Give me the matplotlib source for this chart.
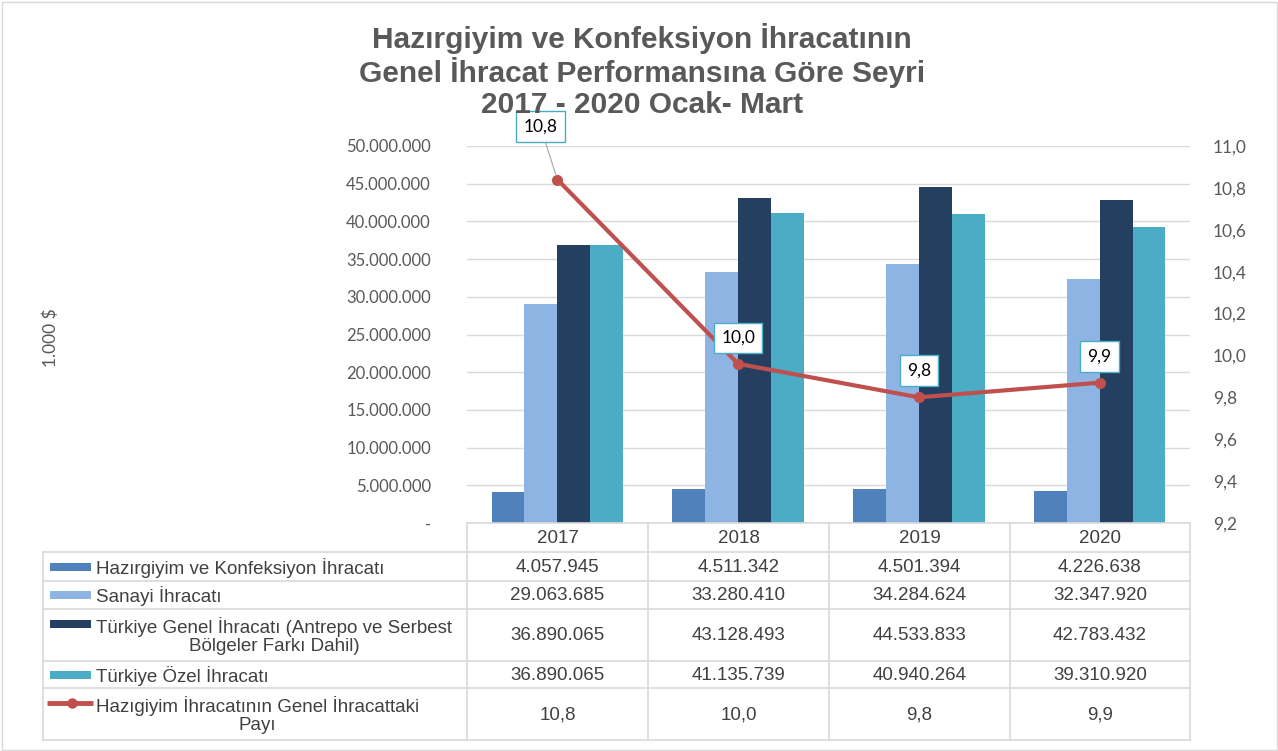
import matplotlib
matplotlib.use("Agg")
import matplotlib.pyplot as plt
from matplotlib.patches import Rectangle
import numpy as np

years = ["2017", "2018", "2019", "2020"]
hazirgiyim = [4057945, 4511342, 4501394, 4226638]
sanayi = [29063685, 33280410, 34284624, 32347920]
genel = [36890065, 43128493, 44533833, 42783432]
ozel = [36890065, 41135739, 40940264, 39310920]
pay = [10.84, 9.96, 9.80, 9.87]

series_names = [
    "Hazırgiyim ve Konfeksiyon İhracatı",
    "Sanayi İhracatı",
    "Türkiye Genel İhracatı (Antrepo ve Serbest\nBölgeler Farkı Dahil)",
    "Türkiye Özel İhracatı",
    "Hazıgiyim İhracatının Genel İhracattaki\nPayı",
]
colors = ["#4F81BD", "#8EB4E3", "#243F60", "#4BACC6"]
line_color = "#C0504D"
left_ticks = [0, 5e6, 10e6, 15e6, 20e6, 25e6, 30e6, 35e6, 40e6, 45e6, 50e6]
right_ticks = [9.2, 9.4, 9.6, 9.8, 10.0, 10.2, 10.4, 10.6, 10.8, 11.0]

plt.rcParams["font.family"] = ["Liberation Sans", "DejaVu Sans"]
HUM = ["Lato", "DejaVu Sans"]

W, H = 1278, 751
fig = plt.figure(figsize=(W / 100, H / 100), dpi=100)

def fx(px):
    return px / W

def fy(py):
    return 1 - py / H

x0, x1, ytop, ybot = 467, 1190, 146, 523
ax = fig.add_axes([fx(x0), fy(ybot), fx(x1) - fx(x0), fy(ytop) - fy(ybot)])
ax2 = ax.twinx()

x = np.arange(len(years))
bw = 0.182
all_series = [hazirgiyim, sanayi, genel, ozel]
for i, (vals, c) in enumerate(zip(all_series, colors)):
    ax.bar(x + (i - 1.5) * bw, vals, width=bw, color=c, zorder=3)

ax.set_xlim(-0.5, 3.5)
ax.set_ylim(0, 50e6)
ax.set_yticks(left_ticks)

def fmt_int(v):
    return f"{int(v):,}".replace(",", ".")

ax.set_yticklabels(["-" if v == 0 else fmt_int(v) for v in left_ticks])
ax.set_xticks([])
ax.grid(axis="y", color="#D9D9D9", linewidth=1, zorder=0)
for s in ax.spines.values():
    s.set_visible(False)
for s in ax2.spines.values():
    s.set_visible(False)
ax.tick_params(axis="y", length=0, pad=26, labelsize=12, labelcolor="#595959")
for lab in ax.get_yticklabels():
    lab.set_fontfamily(HUM)

ax2.plot(x, pay, color=line_color, linewidth=3, marker="o", markersize=7, zorder=5)
ax2.set_ylim(9.2, 11.0)
ax2.set_yticks(right_ticks)
ax2.set_yticklabels([f"{v:.1f}".replace(".", ",") for v in right_ticks])
ax2.tick_params(axis="y", length=0, pad=16.5, labelsize=12.5, labelcolor="#595959")
for lab in ax2.get_yticklabels():
    lab.set_fontfamily(HUM)

# data labels
offsets = [(-17, 53), (0, 26), (0, 27), (0, 26)]
for i, v in enumerate(pay):
    dx, dy = offsets[i]
    txt = f"{v:.1f}".replace(".", ",")
    ax2.annotate(
        txt, xy=(x[i], v), xytext=(dx, dy), textcoords="offset pixels",
        ha="center", va="center", fontsize=12.5, color="black", fontfamily=HUM,
        bbox=dict(boxstyle="square,pad=0.42", fc="white", ec="#4BACC6", lw=1),
        arrowprops=dict(arrowstyle="-", color="#A6A6A6", lw=0.8, shrinkA=0, shrinkB=4) if i == 0 else None,
        zorder=6,
    )

# y label
fig.text(fx(51), fy(338), "1.000 $", rotation=90, ha="center", va="center", fontsize=12.5,
         color="#595959", fontfamily=HUM)

# title
fig.text(fx(642), fy(71), "Hazırgiyim ve Konfeksiyon İhracatının\nGenel İhracat Performansına Göre Seyri\n2017 - 2020 Ocak- Mart",
         ha="center", va="center", fontsize=21.5, fontweight="bold", color="#595959", linespacing=1.12)

# table
tax = fig.add_axes([0, 0, 1, 1])
tax.set_xlim(0, W)
tax.set_ylim(H, 0)
tax.axis("off")
tax.patch.set_alpha(0)

grid_c = "#D9D9D9"
row_y = [523, 552, 581, 609, 661, 688, 740]
col_x = [467, 648, 829, 1010, 1190]
tl, tr = 43, 1190
tax.plot([col_x[0], tr], [row_y[0]] * 2, color=grid_c, lw=1.2)
for yy in row_y[1:]:
    tax.plot([tl, tr], [yy, yy], color=grid_c, lw=1.2)
for xx in col_x:
    tax.plot([xx, xx], [row_y[0], row_y[-1]], color=grid_c, lw=1.2)
tax.plot([tl, tl], [row_y[1], row_y[-1]], color=grid_c, lw=1.2)

txt_c = "#404040"
FS = 13.5
for j, yr in enumerate(years):
    cx = (col_x[j] + col_x[j + 1]) / 2
    tax.text(cx, (row_y[0] + row_y[1]) / 2 + 1, yr, ha="center", va="center", fontsize=FS, color=txt_c)

rows_vals = [
    [fmt_int(v) for v in hazirgiyim],
    [fmt_int(v) for v in sanayi],
    [fmt_int(v) for v in genel],
    [fmt_int(v) for v in ozel],
    [f"{v:.1f}".replace(".", ",") for v in pay],
]
for r in range(5):
    cy = (row_y[r + 1] + row_y[r + 2]) / 2
    for j in range(4):
        cx = (col_x[j] + col_x[j + 1]) / 2
        tax.text(cx, cy + 1, rows_vals[r][j], ha="center", va="center", fontsize=FS, color=txt_c)
    multi = "\n" in series_names[r]
    ky = cy - 11 if multi else cy
    if r < 4:
        tax.add_patch(Rectangle((50, ky - 4), 41, 8, color=colors[r], lw=0))
    else:
        tax.plot([47, 93], [ky, ky], color=line_color, lw=3.5, solid_capstyle="butt")
        tax.plot([72], [ky], marker="o", color=line_color, markersize=6.5)
    tax.text(96, cy + 1, series_names[r], ha="left", va="center", fontsize=FS, color=txt_c,
             multialignment="center", linespacing=1.05)

# outer border
tax.add_patch(Rectangle((1.5, 1.5), W - 3, H - 3, fill=False, ec="#D9D9D9", lw=1))

fig.savefig("out.png", dpi=100)
